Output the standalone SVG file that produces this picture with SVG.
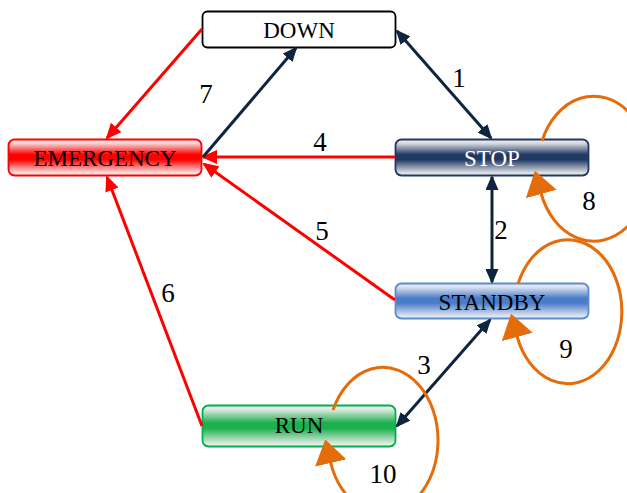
<svg xmlns="http://www.w3.org/2000/svg" width="627" height="493" viewBox="0 0 627 493">
  <style>
    .box { stroke-width: 1.8; }
    .nt { font-family: "Liberation Serif", "Times New Roman", serif; font-size: 23px; text-anchor: middle; fill: #000; }
    .lbl { font-family: "Liberation Serif", "Times New Roman", serif; font-size: 27px; text-anchor: middle; fill: #000; }
    .navy { stroke: #0F243E; stroke-width: 3; fill: none; }
    .red { stroke: #FF0000; stroke-width: 3; fill: none; }
    .loop { stroke: #E46C0A; stroke-width: 3; fill: none; }
  </style>
  <defs>
    <linearGradient id="gRed" x1="0" y1="0" x2="0" y2="1">
      <stop offset="0" stop-color="#f2ecec"/>
      <stop offset="0.1" stop-color="#f6d8d8"/>
      <stop offset="0.42" stop-color="#ff0000"/>
      <stop offset="0.56" stop-color="#ff0000"/>
      <stop offset="0.92" stop-color="#f4dede"/>
      <stop offset="1" stop-color="#f2eeee"/>
    </linearGradient>
    <linearGradient id="gNavy" x1="0" y1="0" x2="0" y2="1">
      <stop offset="0" stop-color="#eeeeee"/>
      <stop offset="0.1" stop-color="#dcdde0"/>
      <stop offset="0.42" stop-color="#1F3864"/>
      <stop offset="0.56" stop-color="#1F3864"/>
      <stop offset="0.92" stop-color="#dcdde0"/>
      <stop offset="1" stop-color="#eeeeee"/>
    </linearGradient>
    <linearGradient id="gBlue" x1="0" y1="0" x2="0" y2="1">
      <stop offset="0" stop-color="#eeeef2"/>
      <stop offset="0.1" stop-color="#dce3f0"/>
      <stop offset="0.42" stop-color="#4a7cc9"/>
      <stop offset="0.56" stop-color="#4a7cc9"/>
      <stop offset="0.92" stop-color="#dce3f0"/>
      <stop offset="1" stop-color="#eeeef2"/>
    </linearGradient>
    <linearGradient id="gGreen" x1="0" y1="0" x2="0" y2="1">
      <stop offset="0" stop-color="#eeeeee"/>
      <stop offset="0.1" stop-color="#dbeadf"/>
      <stop offset="0.42" stop-color="#1db04f"/>
      <stop offset="0.56" stop-color="#1db04f"/>
      <stop offset="0.92" stop-color="#dbeadf"/>
      <stop offset="1" stop-color="#eeeeee"/>
    </linearGradient>
    <marker id="aNavy" markerUnits="userSpaceOnUse" markerWidth="15" markerHeight="13" refX="13" refY="6.5" orient="auto-start-reverse">
      <path d="M0,0 L15,6.5 L0,13 z" fill="#0F243E"/>
    </marker>
    <marker id="aRed" markerUnits="userSpaceOnUse" markerWidth="16" markerHeight="14" refX="14" refY="7" orient="auto">
      <path d="M0,0 L16,7 L0,14 z" fill="#FF0000"/>
    </marker>
    <marker id="aOrange" markerUnits="userSpaceOnUse" markerWidth="24" markerHeight="32" refX="1" refY="16" orient="auto">
      <path d="M0,0 L24,16 L0,32 z" fill="#E46C0A"/>
    </marker>
  </defs>

  <g id="node-down">
    <rect class="box" x="202.5" y="11.5" width="193" height="36" rx="5" fill="#ffffff" stroke="#000000"/>
    <text class="nt" x="299" y="38">DOWN</text>
  </g>
  <g id="node-emergency">
    <rect class="box" x="8.5" y="139.5" width="193" height="36" rx="6" fill="url(#gRed)" stroke="#FF0000"/>
    <text class="nt" x="105" y="166">EMERGENCY</text>
  </g>
  <g id="node-stop">
    <rect class="box" x="395.5" y="139.5" width="193" height="36" rx="6" fill="url(#gNavy)" stroke="#1F3864"/>
    <text class="nt" x="492" y="166" style="fill:#ffffff">STOP</text>
  </g>
  <g id="node-standby">
    <rect class="box" x="395.5" y="283.5" width="193" height="35" rx="6" fill="url(#gBlue)" stroke="#5B8BD0"/>
    <text class="nt" x="492" y="310">STANDBY</text>
  </g>
  <g id="node-run">
    <rect class="box" x="202.5" y="405.5" width="193" height="41" rx="6" fill="url(#gGreen)" stroke="#00B050"/>
    <text class="nt" x="299" y="433">RUN</text>
  </g>

  <g id="connectors">
    <path class="navy" d="M397,31 L491,138" marker-start="url(#aNavy)" marker-end="url(#aNavy)"/>
    <path class="navy" d="M492,177 L492,282" marker-start="url(#aNavy)" marker-end="url(#aNavy)"/>
    <path class="navy" d="M490,320 L397,426" marker-start="url(#aNavy)" marker-end="url(#aNavy)"/>
    <path class="red" d="M395,157 L203,157" marker-end="url(#aRed)"/>
    <path class="red" d="M395,300 L204,164" marker-end="url(#aRed)"/>
    <path class="red" d="M202,426 L107,177" marker-end="url(#aRed)"/>
    <path class="navy" d="M203,157 L296,48" marker-end="url(#aNavy)"/>
    <path class="red" d="M202,29 L107,138" marker-end="url(#aRed)"/>
    <path class="loop" d="M542,141 A56 72.5 0 1 1 541,193" marker-end="url(#aOrange)"/>
    <path class="loop" d="M518,284 A54 72 0 1 1 517,336" marker-end="url(#aOrange)"/>
    <path class="loop" d="M333,410 A55 73 0 1 1 330.5,462" marker-end="url(#aOrange)"/>
    <text class="lbl" x="459" y="87">1</text>
    <text class="lbl" x="501" y="239">2</text>
    <text class="lbl" x="424" y="374">3</text>
    <text class="lbl" x="320" y="151">4</text>
    <text class="lbl" x="322" y="240">5</text>
    <text class="lbl" x="168" y="302">6</text>
    <text class="lbl" x="206" y="103">7</text>
    <text class="lbl" x="589" y="210">8</text>
    <text class="lbl" x="566" y="358">9</text>
    <text class="lbl" x="383" y="483">10</text>
  </g>
</svg>
